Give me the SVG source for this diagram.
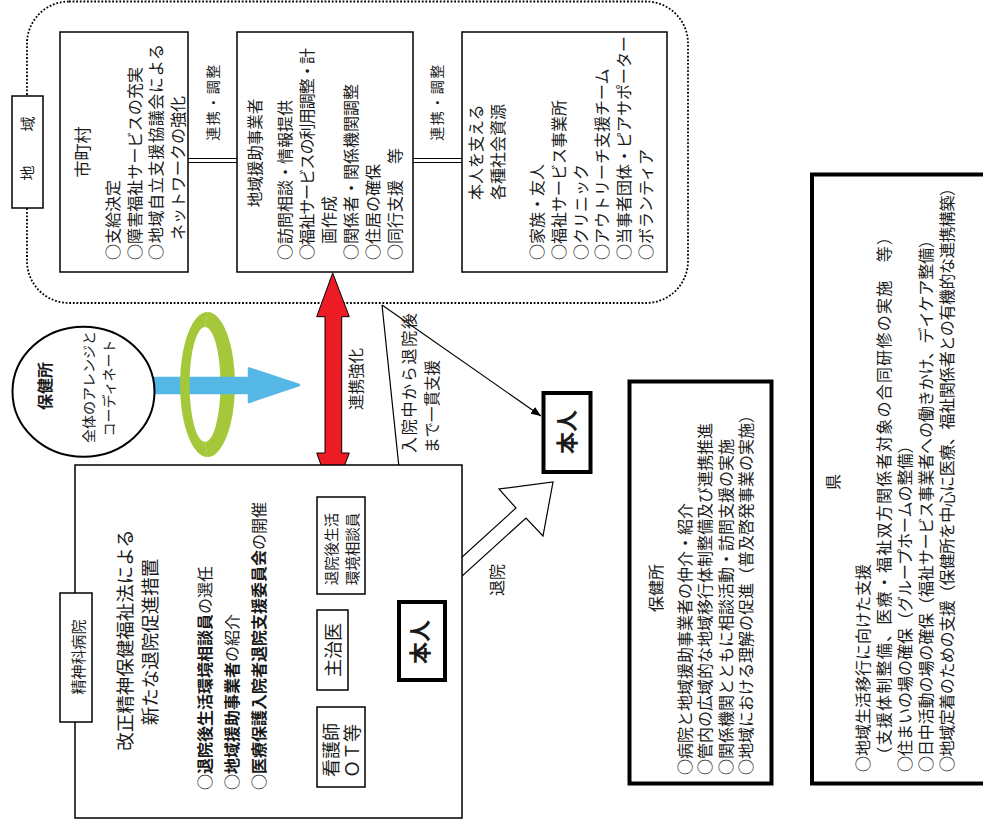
<svg xmlns="http://www.w3.org/2000/svg" width="983" height="830" viewBox="0 0 983 830">
<defs>
<style>
text{font-family:"Noto Sans CJK JP","Noto Sans CJK SC",sans-serif;fill:#1a1a1a;}
.box{fill:#fff;stroke:#000;stroke-width:1.5;}
.thick{fill:#fff;stroke:#000;stroke-width:4;}
.ln{stroke:#000;stroke-width:1.2;fill:none;}
.f14{font-size:14px;}
.f15{font-size:15px;}
.f16{font-size:16px;}
.f18{font-size:18px;}
.mid{text-anchor:middle;}
.b{font-weight:bold;}
</style>
<marker id="ah" viewBox="0 0 10 8" refX="10" refY="4" markerWidth="10" markerHeight="8" markerUnits="userSpaceOnUse" orient="auto">
<path d="M0,0 L10,4 L0,8 Z" fill="#000"/>
</marker>
</defs>
<rect width="983" height="830" fill="#fff"/>

<g id="region">
<rect x="27" y="1.5" width="661" height="301.5" rx="42" ry="42" fill="none" stroke="#000" stroke-width="1.8" stroke-dasharray="1.8 1.8"/>
</g>
<g id="region-label">
<rect class="box" x="12" y="96" width="31" height="112"/>
<text class="f15" letter-spacing="9.5" transform="translate(33.2,180.5) rotate(-90)">地　域</text>
</g>

<g id="connectors">
<line class="ln" x1="188" y1="158.5" x2="237" y2="158.5" stroke-width="1.5"/>
<line class="ln" x1="188" y1="162.5" x2="237" y2="162.5" stroke-width="1.5"/>
<line class="ln" x1="413" y1="158.5" x2="462" y2="158.5" stroke-width="1.5"/>
<line class="ln" x1="413" y1="162.5" x2="462" y2="162.5" stroke-width="1.5"/>
<text class="f14 mid" letter-spacing="1.5" transform="translate(218.3,102) rotate(-90)">連携・調整</text>
<text class="f14 mid" letter-spacing="1.5" transform="translate(442.3,102) rotate(-90)">連携・調整</text>
<polygon points="332.7,273 349.3,316.7 341.7,316.7 341.7,453 349.3,453 332.7,496.7 316.7,453 325,453 325,316.7 316.7,316.7" fill="#ed1c24" stroke="#000" stroke-width="1"/>
<text class="mid" font-size="15.5" transform="translate(361.9,379) rotate(-90)">連携強化</text>
<line class="ln" x1="382" y1="305" x2="412" y2="592" marker-end="url(#ah)"/>
<line class="ln" x1="382" y1="305" x2="541" y2="416" marker-end="url(#ah)"/>
<text class="f16" textLength="140" transform="translate(415.1,453) rotate(-90)">入院中から退院後</text>
<text font-size="15.5" transform="translate(438,453) rotate(-90)">まで一貫支援</text>
<line class="ln" x1="365" y1="542" x2="398" y2="605"/>
<line class="ln" x1="348" y1="642" x2="398" y2="642"/>
<line class="ln" x1="365" y1="720" x2="398" y2="677"/>
<polygon points="428,588 516,508 499,489 553,482 543,536 526,518 438,598" fill="#fff" stroke="#000" stroke-width="1.2" stroke-linejoin="miter"/>
<text class="f16 mid" transform="translate(503.1,580) rotate(-90)">退院</text>
</g>

<g id="shichoson">
<rect class="box" x="60" y="32" width="128" height="240"/>
<text class="mid" font-size="17" transform="translate(88.5,152) rotate(-90)">市町村</text>
<text class="f16" transform="translate(119.1,260) rotate(-90)">
<tspan x="0" y="0">○支給決定</tspan>
<tspan x="0" y="21.5" textLength="193">○障害福祉サービスの充実</tspan>
<tspan x="0" y="43" textLength="216">○地域自立支援協議会による</tspan>
<tspan x="20" y="64.5">ネットワークの強化</tspan>
</text>
</g>

<g id="chiiki-engo">
<rect class="box" x="237" y="32" width="176" height="240"/>
<text class="mid" font-size="15.5" transform="translate(260.9,153) rotate(-90)">地域援助事業者</text>
<text class="f16" transform="translate(291.1,260) rotate(-90)">
<tspan x="0" y="0">○訪問相談・情報提供</tspan>
<tspan x="0" y="22" textLength="212">○福祉サービスの利用調整・計</tspan>
<tspan x="16" y="44">画作成</tspan>
<tspan x="0" y="66">○関係者・関係機関調整</tspan>
<tspan x="0" y="88">○住居の確保</tspan>
<tspan x="0" y="110">○同行支援　等</tspan>
</text>
</g>

<g id="shakai-shigen">
<rect class="box" x="462" y="32" width="205" height="240"/>
<text class="f16" transform="translate(482.1,200) rotate(-90)">
<tspan x="0" y="0">本人を支える</tspan>
<tspan x="0" y="22">各種社会資源</tspan>
</text>
<text class="f16" transform="translate(543.1,260) rotate(-90)">
<tspan x="0" y="0">○家族・友人</tspan>
<tspan x="0" y="21.8">○福祉サービス事業所</tspan>
<tspan x="0" y="43.6">○クリニック</tspan>
<tspan x="0" y="65.4">○アウトリーチ支援チーム</tspan>
<tspan x="0" y="87.2">○当事者団体・ピアサポーター</tspan>
<tspan x="0" y="109">○ボランティア</tspan>
</text>
</g>

<g id="hokenjo-circle">
<path d="M207.5,312 A27.5,72.5 0 0 1 207.5,457 L205,442 A15.5,57.5 0 0 0 205,327 Z" fill="#a5c83b"/>
<path d="M133,378 L249,378 L249,368.5 L299,385 L249,402 L249,393 L133,393 Z" fill="#55b7e6" stroke="#55b7e6" stroke-width="2.5" stroke-linejoin="round"/>
<path d="M207.5,312 A27.5,72.5 0 0 0 207.5,457 L205,442 A15.5,57.5 0 0 1 205,327 Z" fill="#a5c83b"/>
<ellipse cx="83.5" cy="391.7" rx="71" ry="65" fill="#fff" stroke="#000" stroke-width="2"/>
<text class="f16 b mid" transform="translate(51.1,386) rotate(-90)">保健所</text>
<text class="f14 mid" transform="translate(94.3,387) rotate(-90)">全体のアレンジと</text>
<text class="f14 mid" transform="translate(114.3,388) rotate(-90)">コーディネート</text>
</g>

<g id="hospital">
<rect class="box" x="75" y="465" width="387" height="353"/>
<rect class="box" x="60" y="593" width="32" height="129"/>
<text class="f15 mid" transform="translate(83.7,657) rotate(-90)">精神科病院</text>
<text class="mid" font-size="18.5" transform="translate(132,640) rotate(-90)">改正精神保健福祉法による</text>
<text class="mid" font-size="18.5" transform="translate(157,642) rotate(-90)">新たな退院促進措置</text>
<text class="f16" transform="translate(211.1,790) rotate(-90)">
<tspan x="0" y="0">○<tspan class="b">退院後生活環境相談員</tspan>の選任</tspan>
<tspan x="0" y="27">○<tspan class="b">地域援助事業者</tspan>の紹介</tspan>
<tspan x="0" y="54">○<tspan class="b">医療保護入院者退院支援委員会</tspan>の開催</tspan>
</text>
</g>

<g id="soudanin">
<rect class="box" x="317" y="497" width="48" height="97"/>
<text class="mid" font-size="14.5" transform="translate(336.5,549) rotate(-90)">退院後生活</text>
<text class="mid" font-size="14.5" transform="translate(358,549) rotate(-90)">環境相談員</text>
</g>
<g id="shujii">
<rect class="box" x="317" y="610" width="31" height="80"/>
<text class="f18 mid" transform="translate(339.8,650) rotate(-90)">主治医</text>
</g>
<g id="kangoshi">
<rect class="box" x="317" y="707" width="48" height="80"/>
<text class="f18 mid" transform="translate(337.8,750) rotate(-90)">看護師</text>
<text class="f18 mid" transform="translate(358.8,751) rotate(-90)">ＯＴ等</text>
</g>
<g id="honnin-hospital">
<rect class="thick" x="399" y="602" width="46" height="78"/>
<text class="b mid" font-size="22" transform="translate(428.4,642) rotate(-90)">本人</text>
</g>
<g id="honnin-community">
<rect class="thick" x="543.5" y="393" width="47" height="79"/>
<text class="b mid" font-size="22" transform="translate(575.4,432) rotate(-90)">本人</text>
</g>

<g id="hokenjo-box">
<rect class="thick" x="629.5" y="381.5" width="142" height="402"/>
<text class="f16 mid" transform="translate(662.1,588) rotate(-90)">保健所</text>
<text class="f16" transform="translate(691.1,775) rotate(-90)">
<tspan x="0" y="0">○病院と地域援助事業者の仲介・紹介</tspan>
<tspan x="0" y="20.3">○管内の広域的な地域移行体制整備及び連携推進</tspan>
<tspan x="0" y="40.6">○関係機関とともに相談活動・訪問支援の実施</tspan>
<tspan x="0" y="61">○地域における理解の促進（普及啓発事業の実施）</tspan>
</text>
</g>

<g id="ken">
<rect class="thick" x="812" y="174.5" width="200" height="609"/>
<text class="f16 mid" transform="translate(839.1,482) rotate(-90)">県</text>
<text class="f16" transform="translate(868.6,772) rotate(-90)">
<tspan x="0" y="0">○地域生活移行に向けた支援</tspan>
<tspan x="0" y="21" textLength="543">　（支援体制整備、医療・福祉双方関係者対象の合同研修の実施　等）</tspan>
<tspan x="0" y="42">○住まいの場の確保（グループホームの整備）</tspan>
<tspan x="0" y="63" textLength="540">○日中活動の場の確保（福祉サービス事業者への働きかけ、デイケア整備）</tspan>
<tspan x="0" y="84" textLength="592">○地域定着のための支援（保健所を中心に医療、福祉関係者との有機的な連携構築）</tspan>
</text>
</g>
</svg>
